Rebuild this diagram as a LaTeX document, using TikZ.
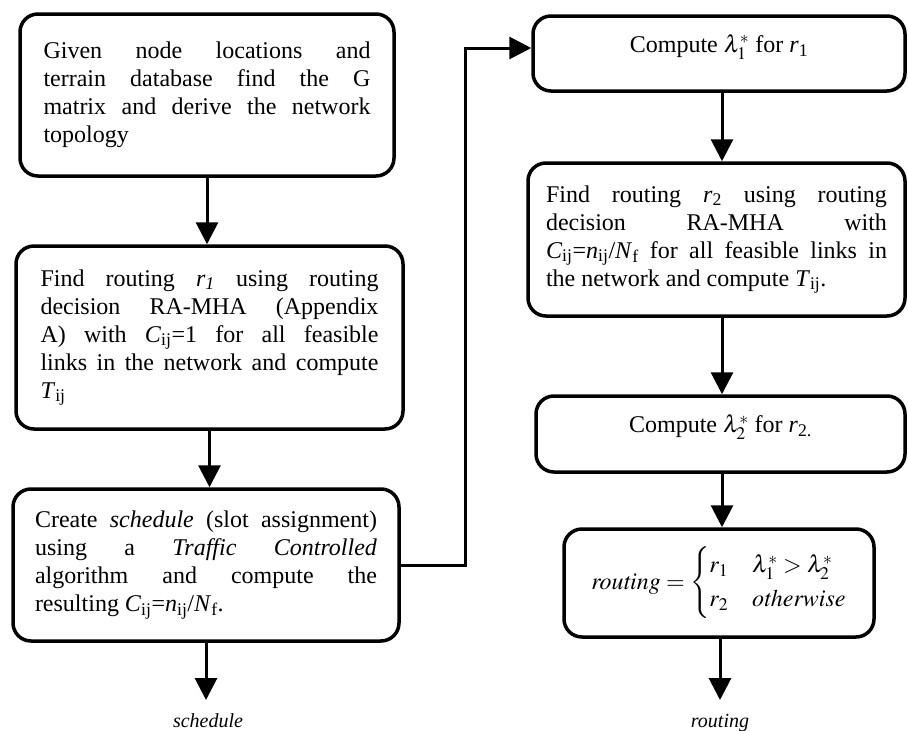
\documentclass[tikz,border=0pt]{standalone}
\usepackage{amsmath}
\usepackage{mathptmx}
\usepackage[no-math]{fontspec}
\setmainfont{Liberation Serif}
\usetikzlibrary{arrows.meta,calc}
\tikzset{
  box/.style={draw, line width=3.5pt, rounded corners=18pt, inner ysep=0pt,
    font=\fontsize{24}{28}\selectfont},
  jbox/.style={box, align=justify},
  cbox/.style={box, align=center},
  arr/.style={line width=3pt, line join=miter, -{Triangle[width=22pt,length=22pt]}},
  outlbl/.style={font=\fontsize{20}{24}\selectfont\itshape, anchor=base, inner sep=0pt},
}
\newcommand\sbs[1]{\textsubscript{#1}}
\begin{document}
\begin{tikzpicture}[x=1pt,y=-1pt]
\fill[white] (0,0) rectangle (908,731);
\useasboundingbox (0,0) rectangle (908,731);

\node[jbox, text width=327pt, inner xsep=23.5pt, minimum height=162pt] (b1) at (207,95)
 {Given node locations and\linebreak terrain database find the G\linebreak matrix and derive the network\linebreak topology};

\node[jbox, text width=338pt, inner xsep=24.5pt, minimum height=183pt] (b2) at (209.5,337.5)
 {Find routing \textit{r\sbs{1}} using routing\linebreak decision RA-MHA (Appendix\linebreak A) with \textit{C}\sbs{ij}=1 for all feasible\linebreak links in the network and compute\linebreak \textit{T}\sbs{ij}};

\node[jbox, text width=342pt, inner xsep=22pt, minimum height=152pt] (b3) at (206,565)
 {Create \textit{schedule} (slot assignment)\linebreak using a \textit{Traffic Controlled}\linebreak algorithm and compute the\linebreak resulting \textit{C}\sbs{ij}=\textit{n}\sbs{ij}/\textit{N}\sbs{f}.};

\node[cbox, minimum width=372pt, minimum height=75pt, text depth=20pt] (b4) at (719,53.5)
 {Compute $\lambda_1^*$ for \textit{r}\sbs{1}};

\node[jbox, text width=341pt, inner xsep=18pt, minimum height=153pt] (b5) at (716.5,239.5)
 {Find routing \textit{r}\sbs{2} using routing\linebreak decision RA-MHA with\linebreak \textit{C}\sbs{ij}=\textit{n}\sbs{ij}/\textit{N}\sbs{f} for all feasible links in\linebreak the network and compute \textit{T}\sbs{ij}.};

\node[cbox, minimum width=369pt, minimum height=76pt, text depth=20pt] (b6) at (720.5,434)
 {Compute $\lambda_2^*$ for \textit{r}\sbs{2.}};

\node[cbox, minimum width=310pt, minimum height=108pt] (b7) at (719,583)
 {$\mathit{routing}=\begin{cases} r_1 & \lambda_1^*>\lambda_2^*\\ r_2 & \mathit{otherwise}\end{cases}$};

\coordinate (ax) at (722,0);
\coordinate (turn) at (465,48);
\coordinate (send) at (206,700);
\coordinate (rend) at (720,700);

\node[outlbl] (schl) at (208,727) {schedule};
\node[outlbl] (rout) at (720,727) {routing};

\draw[arr] (b1.south) -- (b1.south |- b2.north);
\draw[arr] (b2.south) -- (b2.south |- b3.north);
\draw[arr] (b3.south) -- (send);
\draw[arr] (b3.east) -| (turn) -- (turn -| b4.west);
\draw[arr] (b4.south -| ax) -- (b5.north -| ax);
\draw[arr] (b5.south -| ax) -- (b6.north -| ax);
\draw[arr] (b6.south -| ax) -- (b7.north -| ax);
\draw[arr] (b7.south -| rend) -- (rend);
\end{tikzpicture}
\end{document}
